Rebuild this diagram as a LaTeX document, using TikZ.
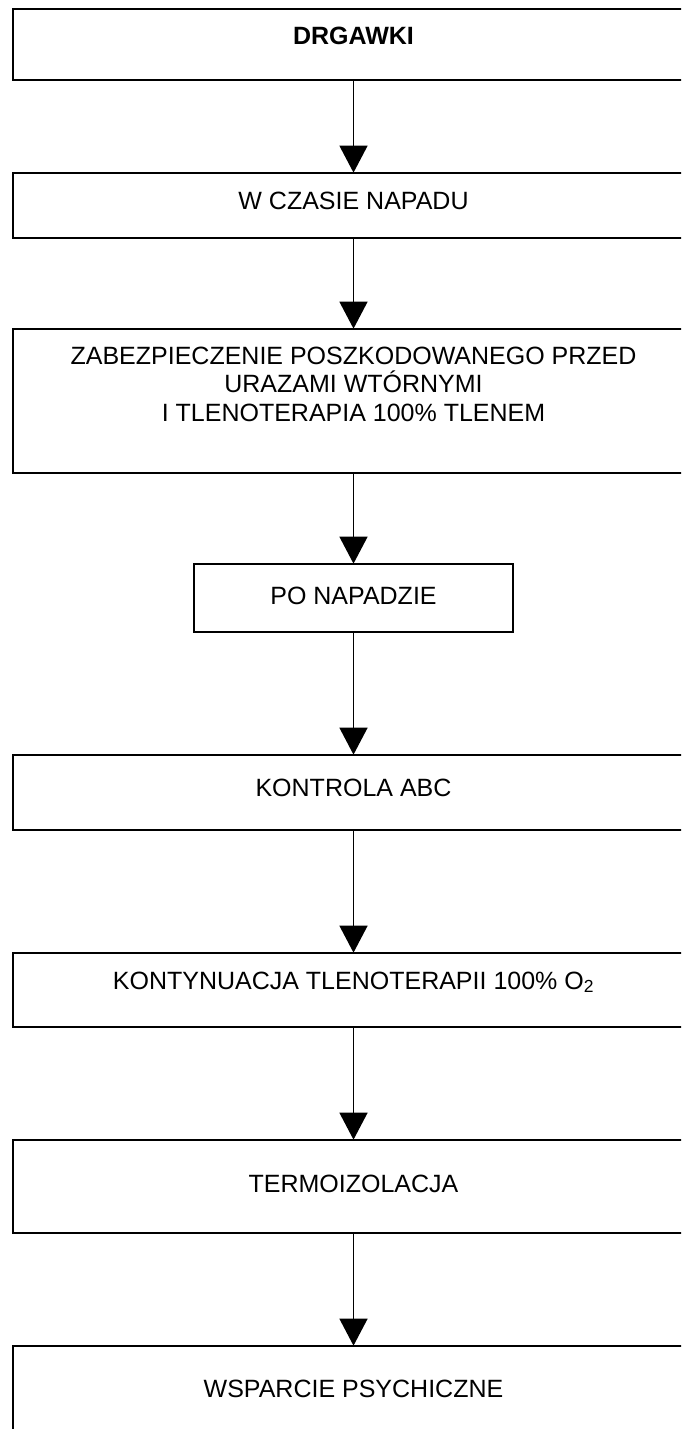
\documentclass[tikz,border=0pt]{standalone}
\usepackage{fontspec}
\setmainfont{Liberation Sans}
\usetikzlibrary{arrows.meta}
\begin{document}
\begin{tikzpicture}[x=1pt,y=-1pt,
  box/.style={draw=black, line width=1.7pt, rectangle, inner sep=0pt, minimum width=681pt},
  lbl/.style={inner sep=0pt, font=\fontsize{25}{28.5}\selectfont, anchor=base, align=center},
  conn/.style={draw=black, line width=1.5pt, -{Triangle[width=28pt,length=27pt]}, shorten >=-0.5pt}
]
\useasboundingbox (0,0) rectangle (681,1429);
\clip (0,0) rectangle (681,1429);
\fill[white] (0,0) rectangle (681,1429);

\node[box, minimum height=71pt] (b1) at (353.5,44.5) {};
\node[box, minimum height=65pt] (b2) at (353.5,205.5) {};
\node[box, minimum height=144pt] (b3) at (353.5,401) {};
\node[box, minimum width=319pt, minimum height=68pt] (b4) at (353.5,598) {};
\node[box, minimum height=75pt] (b5) at (353.5,792.5) {};
\node[box, minimum height=74pt] (b6) at (353.5,990) {};
\node[box, minimum height=93pt] (b7) at (353.5,1186.5) {};
\node[box, minimum height=94pt] (b8) at (353.5,1393) {};

\node[lbl] (t1) at (353.5,45) {\bfseries DRGAWKI};
\node[lbl] (t2) at (353.5,209) {W CZASIE NAPADU};
\node[lbl, anchor=center, text depth=0pt] (t3) at (353.5,384) {ZABEZPIECZENIE POSZKODOWANEGO PRZED\\URAZAMI WTÓRNYMI\\I TLENOTERAPIA 100\% TLENEM};
\node[lbl] (t4) at (353.5,604) {PO NAPADZIE};
\node[lbl] (t5) at (353.5,796) {KONTROLA ABC};
\node[lbl] (t6) at (353.5,989) {KONTYNUACJA TLENOTERAPII 100\% O\textsubscript{2}};
\node[lbl] (t7) at (353.5,1192) {TERMOIZOLACJA};
\node[lbl] (t8) at (353.5,1397) {WSPARCIE PSYCHICZNE};

\draw[conn] (b1.south) -- (b2.north);
\draw[conn] (b2.south) -- (b3.north);
\draw[conn] (b3.south) -- (b4.north);
\draw[conn] (b4.south) -- (b5.north);
\draw[conn] (b5.south) -- (b6.north);
\draw[conn] (b6.south) -- (b7.north);
\draw[conn] (b7.south) -- (b8.north);
\end{tikzpicture}
\end{document}
